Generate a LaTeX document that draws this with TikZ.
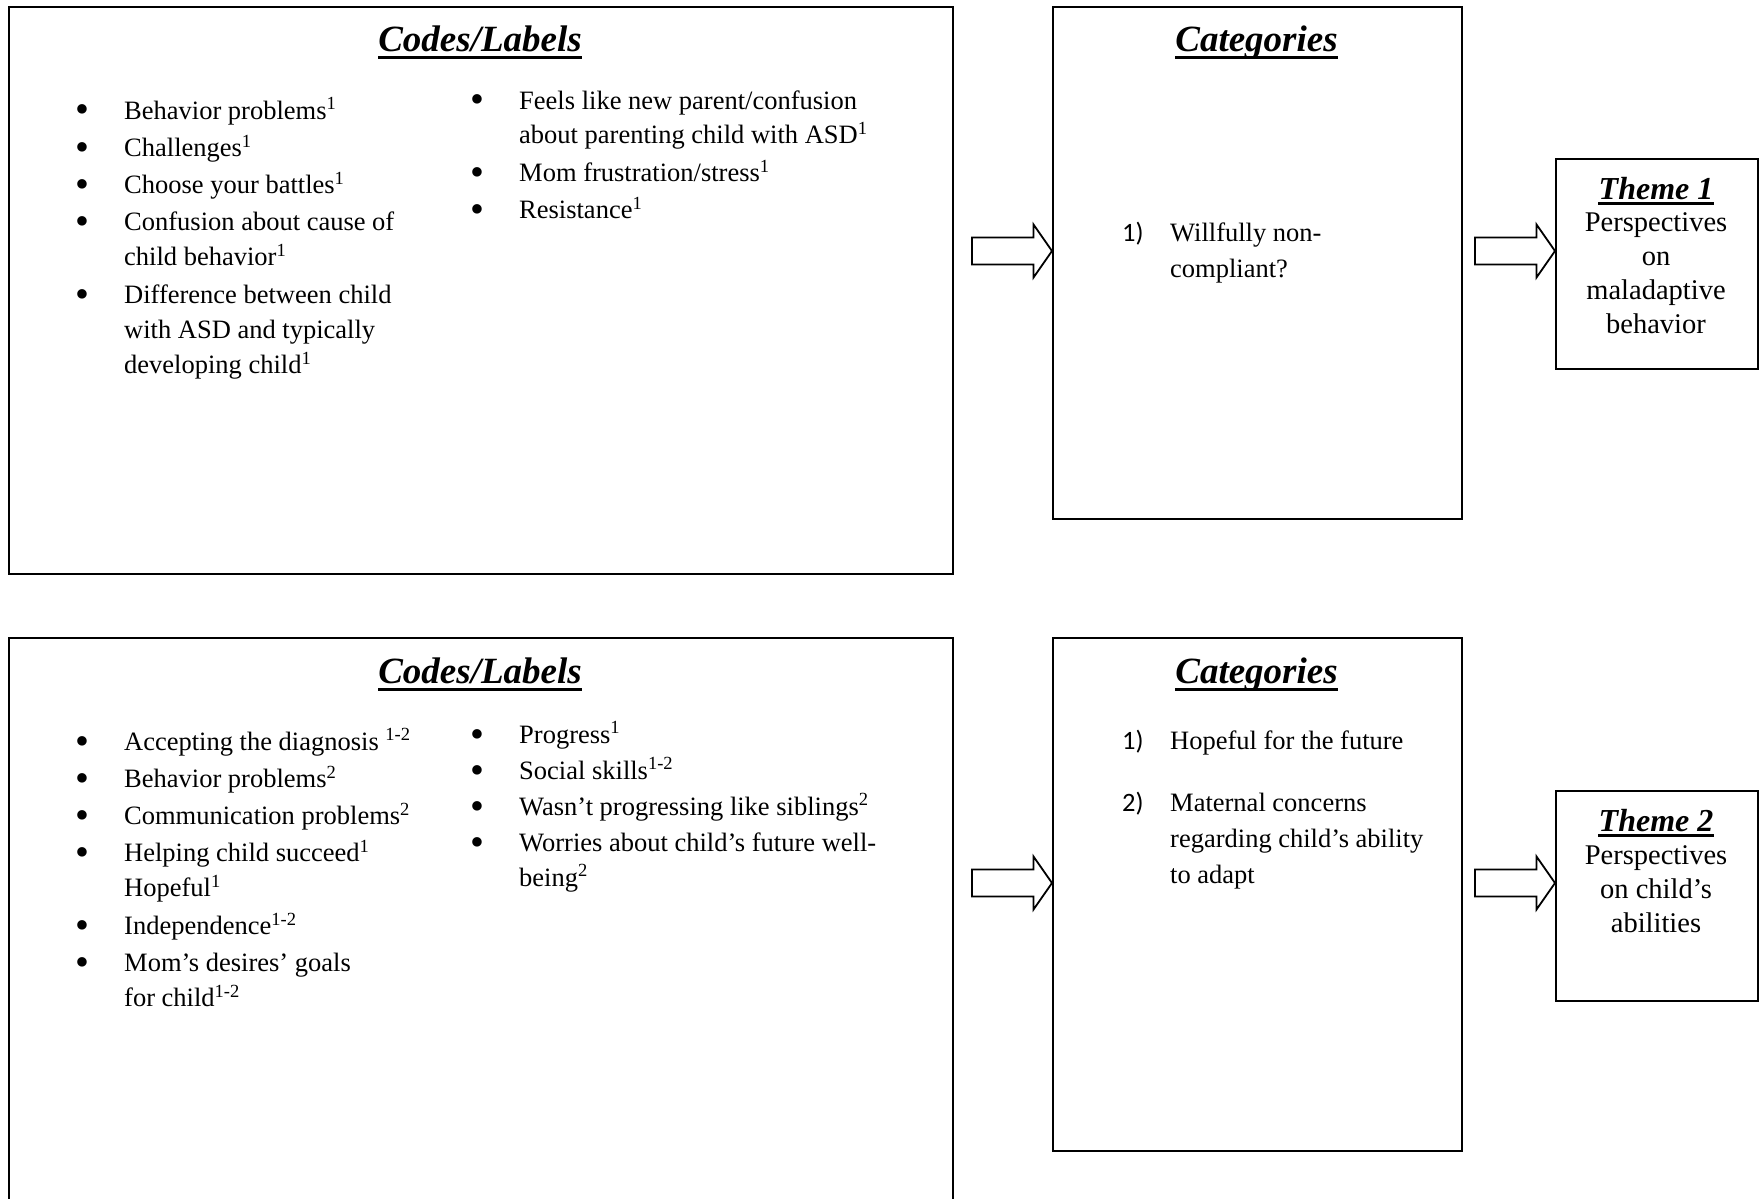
\documentclass[tikz,border=0pt]{standalone}
\usepackage{graphicx}
\usepackage{fontspec}
\setmainfont{Liberation Serif}
\newfontfamily\calib{Carlito}
\usetikzlibrary{calc}
\newcommand\bul{\makebox[47pt][l]{\hspace*{-2pt}\raisebox{-4pt}{\scalebox{1.5}{\textbullet}}}}
\newcommand\sps[1]{\textsuperscript{#1}}
\newcommand\num[1]{\makebox[48pt][l]{\calib #1}}
\newcommand\isep{2.3pt}
\begin{document}
\begin{tikzpicture}[x=1pt,y=-1pt,
  box/.style={draw=black, line width=1.8pt, inner sep=0pt, anchor=north west},
  ttl/.style={inner sep=0pt, anchor=base, font=\fontsize{37}{44}\selectfont\bfseries\itshape},
  thttl/.style={inner sep=0pt, anchor=base, font=\fontsize{32}{38}\selectfont\bfseries\itshape},
  uline/.style={line width=3pt},
  col/.style={inner sep=0pt, anchor=base west, font=\fontsize{26.5}{35}\selectfont},
  catcol/.style={inner sep=0pt, anchor=base west, font=\fontsize{26.5}{36}\selectfont},
  thtxt/.style={inner sep=0pt, anchor=base, font=\fontsize{28.5}{34}\selectfont},
  blockarrow/.pic={\draw[line width=1.8pt, line join=miter, fill=white]
     (-80,-13.5) -- (-18.5,-13.5) -- (-18.5,-26.5) -- (0,0) -- (-18.5,26.5) -- (-18.5,13.5) -- (-80,13.5) -- cycle;}
]
\fill[white] (0,0) rectangle (1759,1199);
\useasboundingbox (0,0) rectangle (1759,1199);

% ---------- top row ----------
\node[box, minimum width=944pt, minimum height=567pt] (codes1) at (8,6) {};
\node[box, minimum width=409pt, minimum height=512pt] (cat1) at (1052,6) {};
\node[box, minimum width=202pt, minimum height=210pt] (theme1) at (1555,158) {};

\node[ttl] (t1) at (480,52) {Codes/Labels};
\draw[uline] ([yshift=-5.5pt]t1.base west) -- ([yshift=-5.5pt]t1.base east);
\node[ttl] (t2) at (1256.5,52) {Categories};
\draw[uline] ([yshift=-5.5pt]t2.base west) -- ([yshift=-5.5pt]t2.base east);

\node[col] (l1) at (77,119) {\begin{tabular}[t]{@{}l@{}l@{}}
\bul & Behavior problems\sps{1}\\[\isep]
\bul & Challenges\sps{1}\\[\isep]
\bul & Choose your battles\sps{1}\\[\isep]
\bul & Confusion about cause of\\
     & child behavior\sps{1}\\[\isep]
\bul & Difference between child\\
     & with ASD and typically\\
     & developing child\sps{1}
\end{tabular}};

\node[col] (r1) at (472,109) {\begin{tabular}[t]{@{}l@{}l@{}}
\bul & Feels like new parent/confusion\\
     & about parenting child with ASD\sps{1}\\[\isep]
\bul & Mom frustration/stress\sps{1}\\[\isep]
\bul & Resistance\sps{1}
\end{tabular}};

\node[catcol] (k1) at (1122,241) {\begin{tabular}[t]{@{}l@{}l@{}}
\num{1)} & Willfully non-\\
         & compliant?
\end{tabular}};

\node[thttl] (th1) at (1656,199) {Theme 1};
\draw[line width=2.6pt] ([yshift=-4.5pt]th1.base west) -- ([yshift=-4.5pt]th1.base east);
\node[thtxt] (tx1) at (1656,231) {\begin{tabular}[t]{@{}c@{}}
Perspectives\\ on\\ maladaptive\\ behavior
\end{tabular}};

\coordinate (a1) at (cat1.west |- 0,251);
\pic at (a1) {blockarrow};
\coordinate (a2) at (theme1.west |- 0,251);
\pic at (a2) {blockarrow};

% ---------- bottom row ----------
\node[box, minimum width=944pt, minimum height=640pt] (codes2) at (8,637) {};
\node[box, minimum width=409pt, minimum height=513pt] (cat2) at (1052,637) {};
\node[box, minimum width=202pt, minimum height=210pt] (theme2) at (1555,790) {};

\node[ttl] (t3) at (480,683.5) {Codes/Labels};
\draw[uline] ([yshift=-5.5pt]t3.base west) -- ([yshift=-5.5pt]t3.base east);
\node[ttl] (t4) at (1256.5,683.5) {Categories};
\draw[uline] ([yshift=-5.5pt]t4.base west) -- ([yshift=-5.5pt]t4.base east);

\node[col] (l2) at (77,750) {\begin{tabular}[t]{@{}l@{}l@{}}
\bul & Accepting the diagnosis \sps{1-2}\\[\isep]
\bul & Behavior problems\sps{2}\\[\isep]
\bul & Communication problems\sps{2}\\[\isep]
\bul & Helping child succeed\sps{1}\\
     & Hopeful\sps{1}\\[\isep]
\bul & Independence\sps{1-2}\\[\isep]
\bul & Mom’s desires’ goals\\
     & for child\sps{1-2}
\end{tabular}};

\node[col] (r2) at (472,743) {\begin{tabular}[t]{@{}l@{}l@{}}
\bul & Progress\sps{1}\\[1pt]
\bul & Social skills\sps{1-2}\\[1pt]
\bul & Wasn’t progressing like siblings\sps{2}\\[1pt]
\bul & Worries about child’s future well-\\
     & being\sps{2}
\end{tabular}};

\node[catcol] (k2) at (1122,749.5) {\begin{tabular}[t]{@{}l@{}l@{}}
\num{1)} & Hopeful for the future\\[25.5pt]
\num{2)} & Maternal concerns\\
         & regarding child’s ability\\
         & to adapt
\end{tabular}};

\node[thttl] (th2) at (1656,831) {Theme 2};
\draw[line width=2.6pt] ([yshift=-4.5pt]th2.base west) -- ([yshift=-4.5pt]th2.base east);
\node[thtxt] (tx2) at (1656,864) {\begin{tabular}[t]{@{}c@{}}
Perspectives\\ on child’s\\ abilities
\end{tabular}};

\coordinate (a3) at (cat2.west |- 0,883);
\pic at (a3) {blockarrow};
\coordinate (a4) at (theme2.west |- 0,883);
\pic at (a4) {blockarrow};
\end{tikzpicture}
\end{document}
